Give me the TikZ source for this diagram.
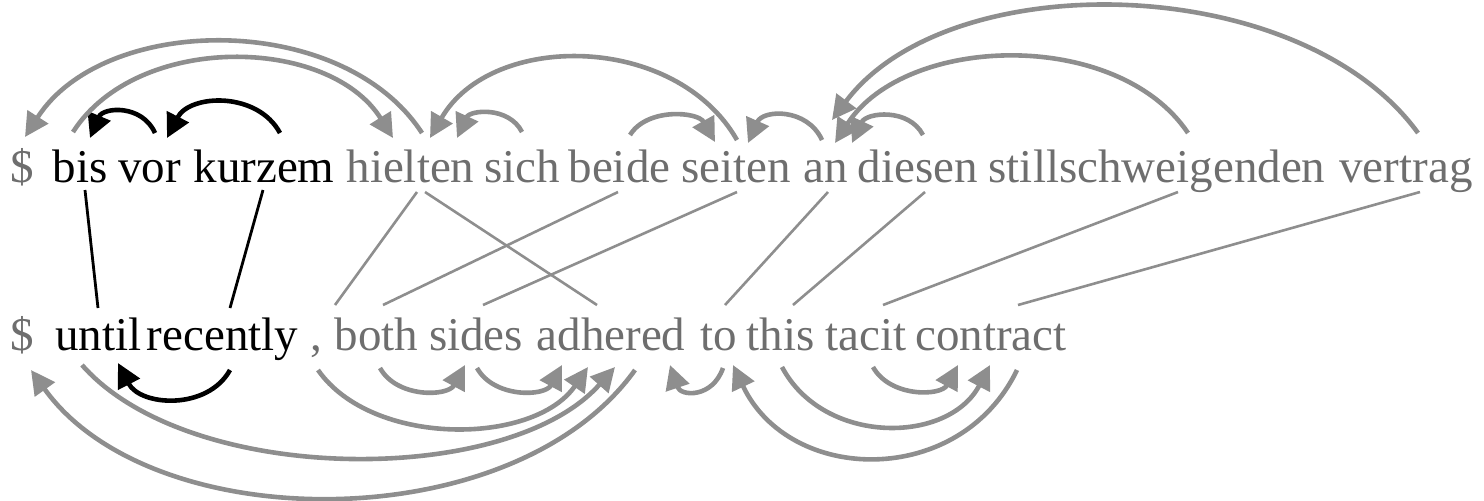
\documentclass[tikz,border=0pt]{standalone}
\usepackage{fontspec}
\setmainfont{Liberation Serif}
\usetikzlibrary{arrows.meta,calc}
\definecolor{txtgray}{HTML}{6E6E6E}
\definecolor{lngray}{HTML}{8E8E8E}
\newcommand\deparc[4]{\draw[#1] (#2) .. controls ($(#2)!0.2!(#3)+(0,#4)$) and ($(#2)!0.8!(#3)+(0,#4)$) .. (#3);}
\begin{document}
\begin{tikzpicture}[x=0.5pt,y=-0.5pt,
  word/.style={inner sep=0pt, anchor=base, font=\fontsize{23.5}{28}\selectfont, text=txtgray},
  hword/.style={word, text=black},
  barc/.style={line width=2.3pt, draw=black, -{Triangle[length=12pt,width=12pt]}},
  garc/.style={barc, draw=lngray},
  balign/.style={line width=1.4pt, draw=black},
  galign/.style={line width=1.3pt, draw=lngray}]
\useasboundingbox (0,0) rectangle (1484,500);
% top row
\node[word]  (d1)   at (22,182)  {\$};
\node[hword] (bis)  at (80,182)  {bis};
\node[hword] (vor)  at (149.5,182) {vor};
\node[hword] (kurzem) at (264,182) {kurzem};
\node[word]  (hielten) at (410.5,182) {hielten};
\node[word]  (sich) at (522.5,182) {sich};
\node[word]  (beide) at (619.5,182) {beide};
\node[word]  (seiten) at (736.5,182) {seiten};
\node[word]  (an) at (825.5,182) {an};
\node[word]  (diesen) at (918,182) {diesen};
\node[word]  (still) at (1157,182) {stillschweigenden};
\node[word]  (vertrag) at (1406,182) {vertrag};
% bottom row
\node[word]  (d2)   at (22,350)  {\$};
\node[hword] (until) at (98.5,350) {until};
\node[hword] (recently) at (222.5,350) {recently};
\node[word]  (comma) at (316,350) {,};
\node[word]  (both) at (376.5,350) {both};
\node[word]  (sides) at (476,350) {sides};
\node[word]  (adhered) at (611,350) {adhered};
\node[word]  (to) at (718.5,350) {to};
\node[word]  (this) at (780.5,350) {this};
\node[word]  (tacit) at (866,350) {tacit};
\node[word]  (contract) at (991,350) {contract};
% alignment lines
\coordinate (bisD) at (85,190);  \coordinate (untilU) at (98,308);
\coordinate (kurzemD) at (263,190); \coordinate (recentlyU) at (230,308);
\draw[balign] (bisD) -- (untilU);
\draw[balign] (kurzemD) -- (recentlyU);
\coordinate (hieltenD1) at (417,192); \coordinate (commaU) at (335,305);
\coordinate (hieltenD2) at (425,192); \coordinate (adheredU) at (597,305);
\coordinate (beideD) at (618,192); \coordinate (bothU) at (383,305);
\coordinate (seitenD) at (737,192); \coordinate (sidesU) at (483,305);
\coordinate (anD) at (828,192); \coordinate (toU) at (725,305);
\coordinate (diesenD) at (925,192); \coordinate (thisU) at (793,305);
\coordinate (stillD) at (1178,192); \coordinate (tacitU) at (883,305);
\coordinate (vertragD) at (1420,192); \coordinate (contractU) at (1018,305);
\draw[galign] (hieltenD1) -- (commaU);
\draw[galign] (hieltenD2) -- (adheredU);
\draw[galign] (beideD) -- (bothU);
\draw[galign] (seitenD) -- (sidesU);
\draw[galign] (anD) -- (toU);
\draw[galign] (diesenD) -- (thisU);
\draw[galign] (stillD) -- (tacitU);
\draw[galign] (vertragD) -- (contractU);
% top arcs
\coordinate (vorO) at (155,133); \coordinate (bisI) at (90,138);
\coordinate (kurzemO) at (280,133); \coordinate (vorI) at (167,138);
\coordinate (bisO) at (73,132); \coordinate (hieltenI1) at (393,138);
\coordinate (hieltenO) at (422,133); \coordinate (dollarI) at (25,137);
\coordinate (seitenO) at (737,140); \coordinate (hieltenI2) at (430,138);
\coordinate (sichO) at (522,132); \coordinate (hieltenI3) at (457,138);
\coordinate (beideO) at (630,135); \coordinate (seitenI1) at (715,142);
\coordinate (anO) at (822,140); \coordinate (seitenI2) at (748,143);
\coordinate (diesenO) at (923,135); \coordinate (anI1) at (852,143);
\coordinate (stillO) at (1188,133); \coordinate (anI2) at (835,143);
\coordinate (vertragO) at (1418,133); \coordinate (anI3) at (832,120);
\deparc{barc}{vorO}{bisI}{-30}
\deparc{barc}{kurzemO}{vorI}{-43}
\deparc{garc}{bisO}{hieltenI1}{-101}
\deparc{garc}{hieltenO}{dollarI}{-123}
\deparc{garc}{seitenO}{hieltenI2}{-107}
\deparc{garc}{sichO}{hieltenI3}{-27}
\deparc{garc}{beideO}{seitenI1}{-29}
\deparc{garc}{anO}{seitenI2}{-33}
\deparc{garc}{diesenO}{anI1}{-29}
\deparc{garc}{stillO}{anI2}{-107}
\deparc{garc}{vertragO}{anI3}{-159}
% bottom arcs
\coordinate (recentlyO) at (230,370); \coordinate (untilI) at (118,363);
\coordinate (commaO) at (318,370); \coordinate (adheredI2) at (588,367);
\coordinate (bothO) at (380,368); \coordinate (sidesI) at (465,365);
\coordinate (sidesO) at (477,368); \coordinate (adheredI1) at (562,365);
\coordinate (untilO) at (82,365); \coordinate (adheredI3) at (615,367);
\coordinate (adheredO) at (635,370); \coordinate (dollar2I) at (31,370);
\coordinate (toO) at (723,368); \coordinate (adheredI4) at (670,365);
\coordinate (contractO) at (1017,370); \coordinate (toI) at (733,365);
\coordinate (thisO) at (782,367); \coordinate (contractI2) at (990,365);
\coordinate (tacitO) at (873,367); \coordinate (contractI1) at (958,365);
\deparc{barc}{recentlyO}{untilI}{42}
\deparc{garc}{commaO}{adheredI2}{78}
\deparc{garc}{bothO}{sidesI}{31}
\deparc{garc}{sidesO}{adheredI1}{31}
\deparc{garc}{untilO}{adheredI3}{121}
\deparc{garc}{adheredO}{dollar2I}{169}
\deparc{garc}{toO}{adheredI4}{31}
\deparc{garc}{contractO}{toI}{119}
\deparc{garc}{thisO}{contractI2}{79}
\deparc{garc}{tacitO}{contractI1}{31}
\end{tikzpicture}
\end{document}
